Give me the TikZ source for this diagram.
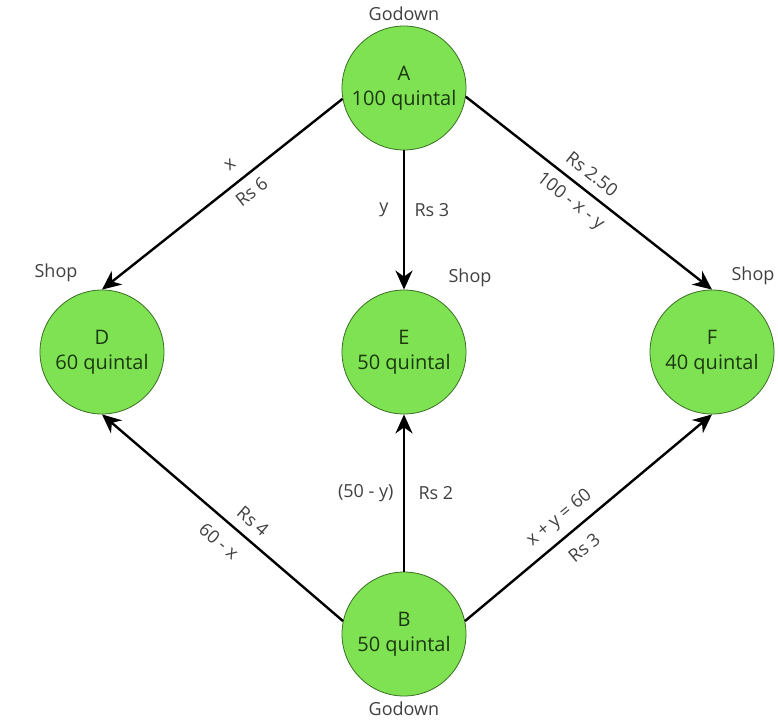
\documentclass[tikz,border=0pt]{standalone}
\usepackage{fontspec}
\setmainfont{Open Sans}
\usetikzlibrary{arrows.meta}

\definecolor{placefill}{RGB}{126,226,82}
\definecolor{placerim}{RGB}{58,110,36}
\definecolor{placetext}{RGB}{28,56,16}
\definecolor{notegray}{RGB}{64,64,64}

\tikzset{
    place/.style={circle, draw=placerim, thick, fill=placefill, minimum size=124pt,
        inner sep=0pt, align=center, text=placetext, font=\fontsize{20}{25}\selectfont},
    route/.style={line width=2.4pt, -{Stealth[length=19pt, width=17pt, inset=6pt]}},
    note/.style={text=notegray, font=\fontsize{18}{21}\selectfont},
}

\begin{document}
\begin{tikzpicture}[x=1pt, y=-1pt]
    \useasboundingbox (0, 0) rectangle (778, 725);

    \node [place] (A) at (404, 88) {A\\100 quintal};
    \node [place] (D) at (102, 352) {D\\60 quintal};
    \node [place] (E) at (404, 352) {E\\50 quintal};
    \node [place] (F) at (712, 352) {F\\40 quintal};
    \node [place] (B) at (404, 634) {B\\50 quintal};

    \draw [route] (A.190) -- (D.north)
        node [note, pos=0.42, above=9pt, sloped] {x}
        node [note, pos=0.42, below=5pt, sloped] {Rs 6};
    \draw [route] (A.south) -- (E.north)
        node [note, pos=0.43, left=11pt] {y}
        node [note, pos=0.43, right=6pt] {Rs 3};
    \draw [route] (A.352) -- (F.north)
        node [note, pos=0.47, above=6pt, sloped] {Rs 2.50}
        node [note, pos=0.47, below=5pt, sloped] {100 - x - y};

    \draw [route] (B.168) -- (D.south)
        node [note, pos=0.42, above=6pt, sloped] {Rs 4}
        node [note, pos=0.46, below=9pt, sloped] {60 - x};
    \draw [route] (B.north) -- (E.south)
        node [note, pos=0.5, left=6pt] {(50 - y)}
        node [note, pos=0.5, right=10pt] {Rs 2};
    \draw [route] (B.12) -- (F.south)
        node [note, pos=0.43, above=5pt, sloped] {x + y = 60}
        node [note, pos=0.43, below=9pt, sloped] {Rs 3};

    \node [note, above=1pt] at (A.north) {Godown};
    \node [note, below=2pt] at (B.south) {Godown};
    \node [note] at (56, 273) {Shop};
    \node [note] at (470, 278) {Shop};
    \node [note] at (753, 276) {Shop};
\end{tikzpicture}
\end{document}
